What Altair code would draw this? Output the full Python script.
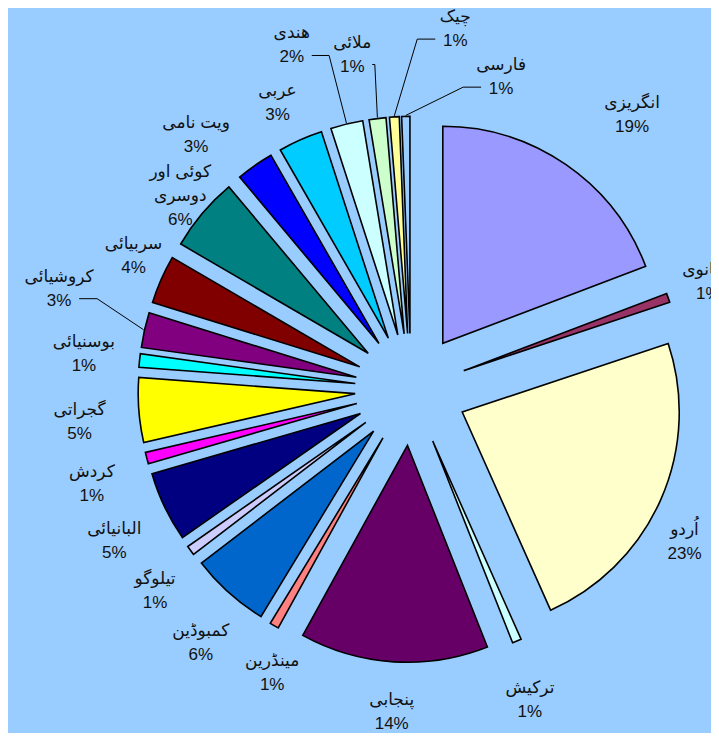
import altair as alt
import pandas as pd

# ---- data (clockwise from 12 o'clock) ----
languages = [
    "انگریزی", "جاپانوی", "اُردو", "ترکیش", "پنجابی", "مینڈرین", "کمبوڈین",
    "تیلوگو", "البانیائی", "کردش", "گجراتی", "بوسنیائی", "کروشیائی", "سربیائی",
    "کوئی اور\nدوسری", "ویت نامی", "عربی", "هندی", "ملائی", "چیک", "فارسی",
]
shares = [
    19.2, 0.67, 23.4, 0.67, 14.0, 0.67, 5.9,
    0.72, 5.2, 0.86, 4.8, 1.0, 2.6, 3.6,
    5.5, 2.8, 3.3, 2.4, 1.25, 0.72, 0.61,
]

# ---- styles ----
colors = [
    "#9999FF", "#993366", "#FFFFCC", "#CCFFFF", "#660066", "#FF8080", "#0066CC",
    "#CCCCFF", "#000080", "#FF00FF", "#FFFF00", "#00FFFF", "#800080", "#800000",
    "#008080", "#0000FF", "#00CCFF", "#CCFFFF", "#CCFFCC", "#FFFF99", "#99CCFF",
]
# label placement relative to each slice's mid angle (degrees) and distance from centre (px)
label_nudge = [4.3, -0.2, 5.3, 1.9, -0.2, -4.0, -2.2, -2.1, -1.5, -2.0, -1.3,
               0.1, 3.4, 2.0, -0.2, -5.3, -1.1, -5.5, -2.9, 10.5, 17.2]
label_dist = [352, 316, 313, 333, 323, 316, 329, 326, 333, 333, 333,
              329, 366, 308, 301, 333, 316, 364, 340, 363, 325]
leader = [0, 0, 0, 0, 0, 0, 0, 0, 0, 0, 0,
          0, 1, 0, 0, 0, 0, 1, 1, 1, 1]

W, H = 703, 725
CX, CY = 403, 381.4   # pie centre
R = 217               # slice radius
D = 56                # explosion distance
LH = 24               # label line height
BG = "#99CCFF"

df = pd.DataFrame({
    "idx": list(range(len(languages))),
    "lang": languages,
    "pct": shares,
    "color": colors,
    "nudge": label_nudge,
    "ldist": label_dist,
    "leader": leader,
})

base = (
    alt.Chart(df)
    .transform_joinaggregate(total="sum(pct)")
    .transform_window(cum="sum(pct)", sort=[alt.SortField("idx")], frame=[None, 0])
    .transform_calculate(
        a0="2*PI*(datum.cum - datum.pct)/datum.total",
        a1="2*PI*datum.cum/datum.total",
    )
    .transform_calculate(mid="(datum.a0 + datum.a1)/2")
    .transform_calculate(
        sx=f"{CX} + {D}*sin(datum.mid)",
        sy=f"{CY} - {D}*cos(datum.mid)",
        la="datum.mid + datum.nudge*PI/180",
        px=f"{CX} + {D + R + 1}*sin(datum.mid)",
        py=f"{CY} - {D + R + 1}*cos(datum.mid)",
        txt="datum.lang + '\\n' + format(datum.pct/datum.total, '.0%')",
    )
    .transform_calculate(nlines="length(split(datum.txt, '\\n'))")
    .transform_calculate(
        lx=f"{CX} + datum.ldist*sin(datum.la)",
        ly=f"{CY} - datum.ldist*cos(datum.la)",
    )
    .transform_calculate(
        tly=f"datum.ly - (datum.nlines - 1)*{LH}/2",
        side="datum.px > datum.lx ? 1 : -1",
    )
    .transform_calculate(
        tx="datum.lx + datum.side*20",
        ty="datum.ly + 10",
    )
    .transform_calculate(
        ex="datum.tx + datum.side*min(18, abs(datum.px - datum.tx)*0.5)",
    )
)

slices = base.mark_arc(outerRadius=R, stroke="black", strokeWidth=1.6).encode(
    theta=alt.Theta("a0:Q", scale=None, stack=None),
    theta2=alt.Theta2("a1"),
    x=alt.X("sx:Q", scale=None, axis=None),
    y=alt.Y("sy:Q", scale=None, axis=None),
    color=alt.Color("color:N", scale=None),
)

lead = base.transform_filter("datum.leader == 1")
seg1 = lead.mark_rule(color="black", strokeWidth=1).encode(
    x=alt.X("tx:Q", scale=None, axis=None),
    y=alt.Y("ty:Q", scale=None, axis=None),
    x2="ex:Q",
    y2="ty:Q",
)
seg2 = lead.mark_rule(color="black", strokeWidth=1).encode(
    x=alt.X("ex:Q", scale=None, axis=None),
    y=alt.Y("ty:Q", scale=None, axis=None),
    x2="px:Q",
    y2="py:Q",
)

labels = base.mark_text(
    align="center", baseline="middle", lineBreak="\n", lineHeight=LH,
    fontSize=17, font="Liberation Sans Narrow, Liberation Sans, DejaVu Sans",
    color="#111111",
).encode(
    x=alt.X("lx:Q", scale=None, axis=None),
    y=alt.Y("tly:Q", scale=None, axis=None),
    text="txt:N",
)

chart = (
    alt.layer(slices, seg1, seg2, labels)
    .properties(width=W, height=H, background=BG, padding=0,
                autosize=alt.AutoSizeParams(type="none"))
    .configure_view(strokeWidth=0)
)

chart.save("out.html", embed_options={"renderer": "svg", "actions": False})
